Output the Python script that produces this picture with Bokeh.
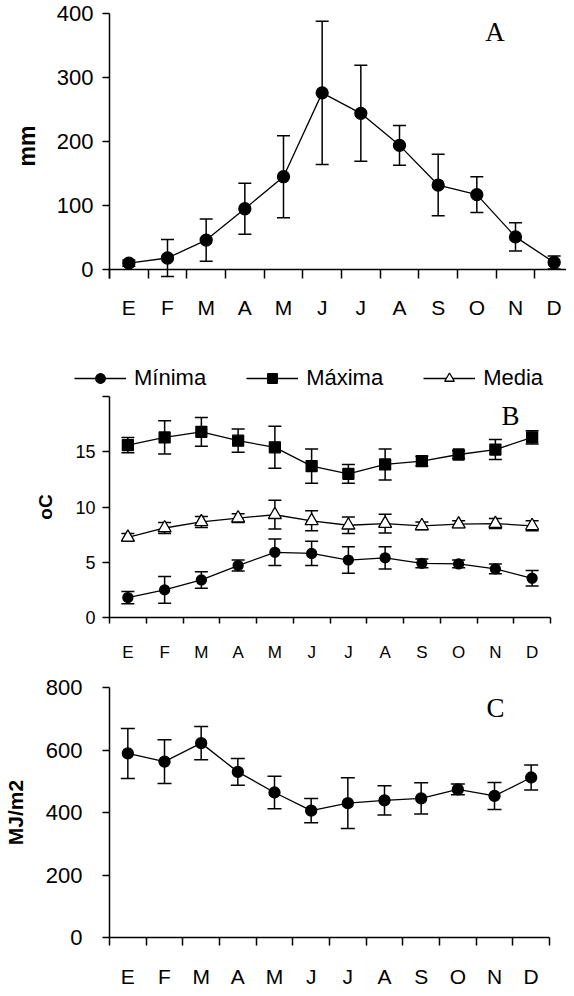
from bokeh.plotting import figure
from bokeh.models import (ColumnDataSource, Range1d, FixedTicker, Whisker, TeeHead,
                          Legend, LegendItem, Label, Span)
from bokeh.layouts import column
from bokeh.embed import file_html
from bokeh.resources import INLINE

# ---------------- data ----------------
months = ["E", "F", "M", "A", "M", "J", "J", "A", "S", "O", "N", "D"]

rain = [10, 18, 46, 95, 145, 276, 244, 194, 132, 117, 51, 11]
rain_err = [5, 29, 33, 40, 64, 112, 75, 31, 48, 28, 22, 10]

tmin = [1.8, 2.5, 3.4, 4.7, 5.9, 5.8, 5.2, 5.4, 4.9, 4.85, 4.4, 3.55]
tmin_err = [0.55, 1.2, 0.75, 0.5, 1.2, 1.1, 1.2, 1.0, 0.4, 0.35, 0.45, 0.7]

tmax = [15.6, 16.3, 16.8, 16.0, 15.4, 13.7, 13.0, 13.85, 14.15, 14.75, 15.2, 16.3]
tmax_err = [0.7, 1.5, 1.3, 1.05, 1.9, 1.55, 0.85, 1.4, 0.45, 0.35, 0.9, 0.6]

tmed = [7.25, 8.1, 8.65, 9.0, 9.3, 8.75, 8.35, 8.5, 8.3, 8.45, 8.5, 8.3]
tmed_err = [0.35, 0.5, 0.5, 0.4, 1.3, 0.9, 0.75, 0.85, 0.35, 0.3, 0.45, 0.45]

rad = [589, 563, 622, 530, 464, 406, 430, 439, 445, 474, 453, 512]
rad_err = [80, 70, 53, 43, 52, 39, 81, 47, 50, 17, 43, 40]

ticks_A = [0, 100, 200, 300, 400]
ticks_B = [0, 5, 10, 15, 20]
ticks_C = [0, 200, 400, 600, 800]

legend_labels = ["Mínima", "Máxima", "Media"]

SANS = "Liberation Sans"
SERIF = "Liberation Serif"

centers = [i + 0.5 for i in range(len(months))]
bounds = list(range(len(months) + 1))


def make_fig(frame_w, frame_h, left, top, right, bottom, ymin, ymax):
    p = figure(frame_width=frame_w, frame_height=frame_h,
               x_range=Range1d(0, 12), y_range=Range1d(ymin, ymax),
               output_backend="svg", toolbar_location=None,
               min_border_left=left, min_border_top=top,
               min_border_right=right, min_border_bottom=bottom)
    p.grid.visible = False
    p.outline_line_color = None
    p.background_fill_color = "white"
    p.border_fill_color = "white"
    return p


def style_x(p, font_px, standoff, tick_out, tick_in=0, show_line=True):
    xa = p.xaxis[0]
    xa.ticker = FixedTicker(ticks=centers, minor_ticks=bounds)
    xa.major_label_overrides = {c: m for c, m in zip(centers, months)}
    xa.major_tick_out = 0
    xa.major_tick_in = 0
    xa.minor_tick_out = tick_out
    xa.minor_tick_in = tick_in
    xa.minor_tick_line_width = 1.5
    xa.minor_tick_line_color = "black"
    xa.axis_line_width = 1.5
    xa.axis_line_color = "black" if show_line else None
    xa.major_label_text_font = SANS
    xa.major_label_text_font_size = f"{font_px}px"
    xa.major_label_text_color = "black"
    xa.major_label_standoff = standoff
    return xa


def style_y(p, ticks, font_px, standoff, label, label_px, label_standoff, overrides=None):
    ya = p.yaxis[0]
    ya.ticker = FixedTicker(ticks=ticks)
    if overrides:
        ya.major_label_overrides = overrides
    ya.major_tick_out = 7
    ya.major_tick_in = 0
    ya.minor_tick_out = 0
    ya.minor_tick_in = 0
    ya.major_tick_line_width = 1.5
    ya.axis_line_width = 1.5
    ya.axis_line_color = "black"
    ya.major_label_text_font = SANS
    ya.major_label_text_font_size = f"{font_px}px"
    ya.major_label_text_color = "black"
    ya.major_label_standoff = standoff
    ya.axis_label = label
    ya.axis_label_text_font = SANS
    ya.axis_label_text_font_style = "bold"
    ya.axis_label_text_font_size = f"{label_px}px"
    ya.axis_label_text_color = "black"
    ya.axis_label_standoff = label_standoff
    return ya


def series(p, vals, errs, marker, size, fill="black", cap=13, whiskers=True):
    src = ColumnDataSource(dict(
        x=centers, y=vals,
        upper=[v + e for v, e in zip(vals, errs)],
        lower=[v - e for v, e in zip(vals, errs)]))
    if whiskers:
        w = Whisker(base="x", upper="upper", lower="lower", source=src,
                    line_color="black", line_width=1.5,
                    upper_head=TeeHead(size=cap, line_color="black", line_width=1.5),
                    lower_head=TeeHead(size=cap, line_color="black", line_width=1.5))
        p.add_layout(w)
    ln = p.line("x", "y", source=src, line_color="black", line_width=1.3)
    sc = p.scatter("x", "y", source=src, marker=marker, size=size,
                   fill_color=fill, line_color="black", line_width=1.3)
    return ln, sc


def letter(p, text, x, y):
    p.add_layout(Label(x=x, y=y, text=text, text_font=SERIF, text_font_size="27px",
                       text_align="center", text_baseline="middle", text_color="black"))


# ---------------- Panel A ----------------
pA = make_fig(464, 265, 102, 13, 0, 54, -14, 400)
style_x(pA, 21, 17, 0, tick_in=9, show_line=False)
pA.add_layout(Span(location=0, dimension="width", line_color="black", line_width=1.5))
style_y(pA, ticks_A, 22, 9, "mm", 23, 14)
series(pA, rain, rain_err, "circle", 12, cap=13)
letter(pA, "A", 9.97, 371)

# ---------------- Legend strip for panel B ----------------
# Same series drawn in a strip whose y range keeps the data out of view;
# only the legend is visible.
pL = figure(frame_width=566, frame_height=60, x_range=Range1d(0, 12),
            y_range=Range1d(1000, 1001),
            output_backend="svg", toolbar_location=None,
            x_axis_location=None, y_axis_location=None,
            min_border_left=0, min_border_right=0, min_border_top=0, min_border_bottom=0)
pL.grid.visible = False
pL.outline_line_color = None
lm = series(pL, tmin, tmin_err, "circle", 10, whiskers=False)
lx = series(pL, tmax, tmax_err, "square", 11, whiskers=False)
ld = series(pL, tmed, tmed_err, "triangle", 13, fill="white", whiskers=False)
items = [LegendItem(label=lab, renderers=list(r))
         for lab, r in zip(legend_labels, [lm, lx, ld])]
legend = Legend(items=items, orientation="horizontal", location=(74, 1),
                glyph_width=52, glyph_height=24, label_standoff=8, spacing=40,
                padding=0, margin=0, border_line_color=None,
                background_fill_alpha=0,
                label_text_font=SANS, label_text_font_size="22px",
                label_text_color="black")
pL.add_layout(legend)

# ---------------- Panel B ----------------
pB = make_fig(441, 221, 98, 4, 27, 47, 0, 20)
style_x(pB, 17, 19, 6)
style_y(pB, ticks_B, 18, 7, "oC", 19, 16, overrides={20: ""})
series(pB, tmin, tmin_err, "circle", 10, cap=13)
series(pB, tmax, tmax_err, "square", 11, cap=13)
series(pB, tmed, tmed_err, "triangle", 13, fill="white", cap=13)
letter(pB, "B", 10.91, 18.2)

# ---------------- Panel C ----------------
pC = make_fig(440, 250, 101, 23, 25, 43, 0, 800)
style_x(pC, 21, 19, 8)
style_y(pC, ticks_C, 22, 20, "MJ/m2", 21, 16)
series(pC, rad, rad_err, "circle", 11, cap=14)
letter(pC, "C", 10.53, 733)

layout = column(pA, pL, pB, pC, spacing=0)

open("out.html", "w").write(file_html(layout, INLINE))
